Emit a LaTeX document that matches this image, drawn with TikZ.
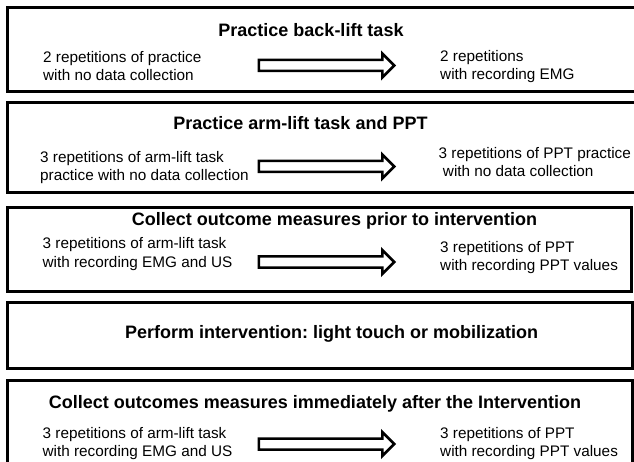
\documentclass[tikz,border=0pt]{standalone}
\usepackage{fontspec}
\setmainfont{Liberation Sans}
\usetikzlibrary{shapes.arrows}
\frenchspacing

\begin{document}
\begin{tikzpicture}[
  x=1pt,y=-1pt,
  stage/.style={draw=black,line width=3pt,inner sep=0pt},
  heading/.style={anchor=base,inner sep=0pt,font=\fontsize{18}{21}\selectfont\bfseries},
  detail/.style={anchor=base west,inner sep=0pt,align=left,font=\fontsize{15.3}{18}\selectfont},
  fatarrow/.style={single arrow,draw=black,fill=white,line width=2.5pt,inner xsep=0pt,inner ysep=4.25pt,
    minimum width=1pt,minimum height=135.5pt,single arrow head extend=6.5pt}
]
\useasboundingbox (0,0) rectangle (634,462);

\node[stage,minimum width=628.5pt,minimum height=84.5pt] (back) at (321.75,49.75) {};
\node[stage,minimum width=628.5pt,minimum height=89.5pt] (arm) at (321.75,147.75) {};
\node[stage,minimum width=624pt,minimum height=83.5pt] (pre) at (319.5,249.25) {};
\node[stage,minimum width=625pt,minimum height=66pt] (int) at (320,335.5) {};
\node[stage,minimum width=625pt,minimum height=86pt] (post) at (320,423) {};

\node[heading] (backT) at (311,37) {Practice back-lift task};
\node[detail] (backL) at (43,81) {2 repetitions of practice\\with no data collection};
\node[detail] (backR) at (440,80) {2 repetitions\\with recording EMG};
\node[fatarrow] (backA) at (323.75,65.5) {};

\node[heading] (armT) at (300.5,130) {Practice arm-lift task and PPT};
\node[detail] (armL) at (40,181) {3 repetitions of arm-lift task\\practice with no data collection};
\node[detail] (armR) at (438.5,177) {3 repetitions of PPT practice\\\ with no data collection};
\node[fatarrow] (armA) at (323.75,166.5) {};

\node[heading] (preT) at (334.5,226) {Collect outcome measures prior to intervention};
\node[detail] (preL) at (42.5,267) {3 repetitions of arm-lift task\\with recording EMG and US};
\node[detail] (preR) at (440,270) {3 repetitions of PPT\\with recording PPT values};
\node[fatarrow] (preA) at (323.75,262) {};

\node[heading] (intT) at (331.5,338) {Perform intervention: light touch or mobilization};

\node[heading] (postT) at (315,408) {Collect outcomes measures immediately after the Intervention};
\node[detail] (postL) at (42.5,456) {3 repetitions of arm-lift task\\with recording EMG and US};
\node[detail] (postR) at (440,456) {3 repetitions of PPT\\with recording PPT values};
\node[fatarrow] (postA) at (323.75,444) {};
\end{tikzpicture}
\end{document}
